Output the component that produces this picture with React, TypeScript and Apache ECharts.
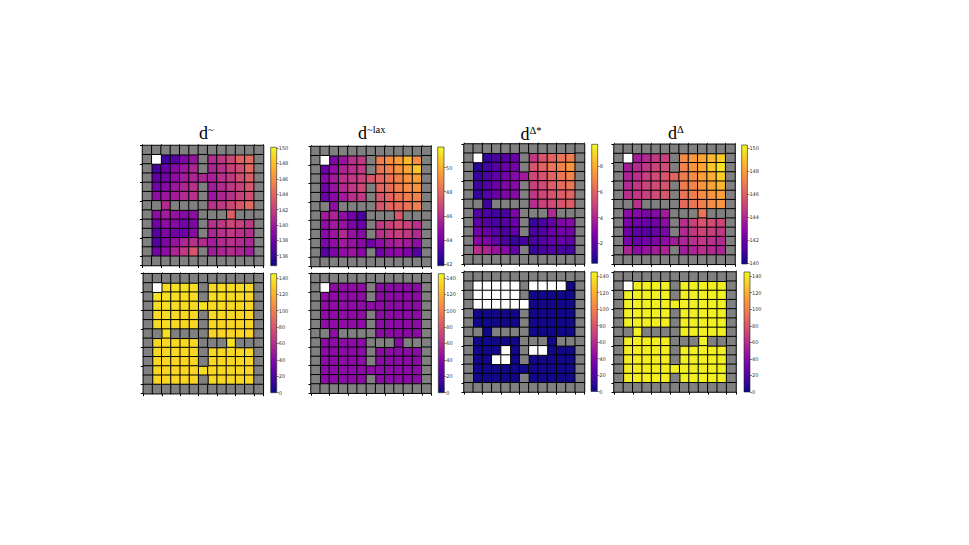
import React, { useEffect, useRef } from "react";
import * as echarts from "echarts";

// Four-rooms gridworld layout: '#' = wall
const LAYOUT = [
  "#############",
  "#.....#.....#",
  "#.....#.....#",
  "#...........#",
  "#.....#.....#",
  "#.....#.....#",
  "##.####.....#",
  "#.....###.###",
  "#.....#.....#",
  "#.....#.....#",
  "#...........#",
  "#.....#.....#",
  "#############",
];

const CATS = ["0", "1", "2", "3", "4", "5", "6", "7", "8", "9", "10", "11", "12"];

const PLASMA = ["#0d0887", "#41049d", "#6a00a8", "#8f0da4", "#b12a90", "#cc4778", "#e16462", "#f2844b", "#fca636", "#fcce25", "#f0f921"];

// interior 11x11 values (rows 1..11, cols 1..11); null = wall, NaN = blank (white)
const N = NaN;
const D_TILDE = [
  [N, 136.2, 137.0, 138.6, 139.6, null, 140.9, 141.6, 142.4, 143.9, 144.2],
  [136.5, 137.8, 139.0, 139.8, 140.6, null, 140.6, 141.2, 142.1, 142.7, 144.2],
  [137.5, 138.1, 139.3, 140.1, 140.6, 140.6, 140.4, 141.2, 141.6, 142.7, 143.6],
  [138.1, 139.0, 139.8, 140.6, 141.2, null, 140.1, 140.9, 141.6, 142.1, 143.2],
  [139.3, 139.8, 140.1, 140.9, 141.2, null, 139.8, 140.6, 141.2, 142.1, 142.7],
  [null, 140.9, null, null, null, null, 141.2, 141.6, 142.4, 143.2, 144.2],
  [139.3, 140.1, 139.6, 139.0, 139.3, null, null, null, 143.6, null, null],
  [138.1, 139.3, 139.0, 138.1, 138.6, null, 141.2, 141.6, 142.4, 142.1, 141.6],
  [137.0, 138.6, 138.1, 137.8, 139.0, null, 140.6, 141.2, 141.6, 141.2, 140.9],
  [137.0, 138.6, 139.6, 140.6, 141.2, 140.9, 140.1, 140.9, 141.2, 140.9, 140.6],
  [138.1, 139.3, 140.6, 141.6, 143.2, null, 140.1, 140.6, 140.9, 140.6, 140.1],
];
const D_TILDE_LAX = [
  [N, 44.3, 45.0, 46.0, 46.3, null, 48.6, 49.0, 49.5, 50.2, 49.0],
  [43.8, 44.8, 45.6, 46.0, 46.3, null, 48.3, 48.7, 49.2, 49.7, 50.5],
  [44.6, 45.3, 46.0, 46.3, 46.6, 47.3, 47.8, 48.3, 48.7, 49.2, 49.5],
  [44.0, 45.0, 45.8, 46.3, 46.8, null, 47.8, 48.1, 48.6, 49.0, 49.2],
  [43.8, 44.6, 45.3, 46.0, 46.3, null, 47.3, 47.8, 48.3, 48.6, 48.7],
  [null, 44.8, null, null, null, null, 47.3, 47.8, 48.0, 48.3, 48.6],
  [45.3, 45.6, 44.8, 44.0, 43.0, null, null, null, 47.3, null, null],
  [44.8, 45.3, 45.0, 44.3, 43.8, null, 46.3, 46.6, 47.0, 46.6, 46.0],
  [44.6, 45.1, 45.8, 45.0, 44.6, null, 46.0, 46.3, 46.6, 46.3, 45.8],
  [44.3, 44.8, 45.3, 45.0, 44.6, 44.0, 44.8, 45.3, 45.6, 45.3, 44.8],
  [43.3, 44.3, 44.8, 45.1, 44.6, null, 44.0, 44.6, 44.8, 44.3, 43.3],
];
const D_DELTA_STAR = [
  [N, 1.2, 1.6, 1.8, 2.3, null, 4.6, 5.5, 6.0, 6.5, 6.7],
  [0.9, 1.4, 1.8, 2.3, 2.5, null, 5.5, 6.0, 6.5, 6.9, 7.4],
  [1.2, 1.6, 2.1, 2.5, 3.0, 3.7, 5.1, 5.5, 6.0, 6.5, 6.9],
  [1.4, 1.8, 2.3, 2.8, 3.0, null, 4.9, 5.2, 5.8, 6.2, 6.5],
  [1.2, 1.8, 2.3, 2.8, 3.0, null, 4.6, 5.1, 5.5, 5.8, 6.0],
  [null, 1.4, null, null, null, null, 4.3, 4.9, 5.2, 5.5, 5.8],
  [1.8, 1.6, 1.4, 1.6, 2.8, null, null, null, 4.1, null, null],
  [2.1, 1.8, 1.6, 1.8, 2.3, null, 1.2, 1.6, 2.1, 2.8, 3.0],
  [2.5, 2.3, 1.8, 1.6, 2.1, null, 1.6, 1.8, 2.3, 2.5, 2.5],
  [3.0, 2.8, 2.1, 1.6, 1.2, 1.4, 1.6, 1.8, 2.1, 2.3, 2.1],
  [4.3, 4.0, 3.4, 3.0, 2.1, null, 1.2, 1.6, 1.8, 1.6, 1.4],
];
const D_DELTA = [
  [N, 143.6, 144.1, 144.6, 144.9, null, 147.4, 147.8, 148.2, 148.7, 149.3],
  [143.6, 144.1, 144.6, 145.1, 145.3, null, 147.2, 147.7, 148.2, 149.1, 149.8],
  [143.9, 144.3, 144.9, 145.3, 145.6, 146.2, 147.0, 147.4, 148.0, 148.4, 149.3],
  [144.1, 144.6, 145.1, 145.3, 145.6, null, 147.0, 147.2, 147.7, 148.2, 148.7],
  [144.3, 144.6, 144.9, 145.3, 145.6, null, 146.7, 147.0, 147.4, 147.7, 148.0],
  [null, 144.3, null, null, null, null, 146.4, 146.7, 147.0, 147.4, 147.7],
  [143.0, 142.8, 142.5, 142.8, 143.6, null, null, null, 146.7, null, null],
  [142.5, 142.2, 142.0, 142.2, 143.0, null, 144.3, 144.9, 145.6, 145.3, 145.1],
  [142.2, 141.8, 141.5, 142.0, 142.5, null, 144.1, 144.6, 145.1, 144.9, 144.6],
  [142.5, 142.0, 142.2, 142.5, 143.0, 143.6, 143.9, 144.3, 144.6, 144.3, 144.1],
  [143.9, 143.0, 143.3, 143.6, 143.9, null, 143.6, 143.9, 144.3, 144.1, 143.9],
];
const B_TILDE = [
  [N, 136, 137, 137, 136, null, 135, 136, 136, 135, 135],
  [137, 137, 136, 136, 135, null, 136, 136, 135, 135, 134],
  [136, 136, 135, 135, 134, 137, 135, 135, 134, 134, 134],
  [135, 135, 135, 134, 134, null, 134, 134, 134, 133, 133],
  [135, 135, 134, 134, 133, null, 134, 133, 133, 133, 133],
  [null, 137, null, null, null, null, 133, 133, 133, 133, 132],
  [134, 134, 134, 134, 134, null, null, null, 137, null, null],
  [134, 134, 134, 134, 133, null, 134, 134, 134, 134, 134],
  [134, 133, 133, 133, 133, null, 134, 134, 134, 134, 134],
  [133, 133, 133, 133, 133, 136, 134, 134, 134, 134, 134],
  [133, 133, 133, 133, 133, null, 134, 134, 134, 134, 134],
];
const B_TILDE_LAX = [
  [N, 43, 43, 43, 43, null, 42, 42, 42, 42, 42],
  [43, 43, 43, 43, 43, null, 42, 42, 42, 42, 42],
  [43, 43, 43, 43, 43, 43, 42, 42, 42, 42, 42],
  [43, 43, 43, 43, 43, null, 42, 42, 42, 42, 42],
  [43, 43, 43, 43, 43, null, 42, 42, 42, 42, 42],
  [null, 43, null, null, null, null, 42, 42, 42, 42, 42],
  [42, 42, 42, 42, 42, null, null, null, 42, null, null],
  [42, 42, 42, 42, 42, null, 42, 42, 42, 42, 42],
  [42, 42, 42, 42, 42, null, 42, 42, 42, 42, 42],
  [42, 42, 42, 42, 42, 43, 42, 42, 42, 42, 42],
  [42, 42, 42, 42, 42, null, 42, 42, 42, 42, 42],
];
const B_DELTA_STAR = [
  [N, N, N, N, N, null, N, N, N, N, 1],
  [N, N, N, N, N, null, 1, 1, 1, 1, 1],
  [N, N, N, N, N, N, 1, 1, 1, 1, 1],
  [1, 1, 1, 1, 1, null, 1, 1, 1, 1, 1],
  [1, 1, 1, 1, 1, null, 1, 1, 1, 1, 1],
  [null, 1, null, null, null, null, 1, 1, 1, 1, 1],
  [1, 1, 1, 1, 1, null, null, null, 1, null, null],
  [1, 1, 1, N, 1, null, N, N, 1, 1, 1],
  [1, 1, N, N, 1, null, 1, 1, 1, 1, 1],
  [1, 1, 1, 1, 1, 1, 1, 1, 1, 1, 1],
  [1, 1, 1, 1, 1, null, 1, 1, 1, 1, 1],
];
const B_DELTA = [
  [N, 142, 142, 142, 142, null, 142, 142, 142, 142, 142],
  [142, 142, 142, 142, 142, null, 142, 142, 142, 142, 142],
  [142, 142, 142, 142, 142, 142, 142, 142, 142, 142, 142],
  [142, 142, 142, 142, 142, null, 142, 142, 142, 142, 142],
  [142, 142, 142, 142, 142, null, 142, 142, 142, 142, 142],
  [null, 142, null, null, null, null, 142, 142, 142, 142, 142],
  [141, 141, 141, 141, 141, null, null, null, 142, null, null],
  [141, 141, 141, 141, 141, null, 142, 142, 142, 142, 142],
  [141, 141, 141, 141, 141, null, 142, 142, 142, 142, 142],
  [141, 141, 141, 141, 141, 142, 142, 142, 142, 142, 142],
  [141, 141, 141, 141, 141, null, 142, 142, 142, 142, 142],
];

const RANGES = [
  [134.7, 150.1],
  [41.86, 51.7],
  [0.45, 9.68],
  [139.94, 150.3],
  [0, 145],
  [0, 145],
  [0, 145],
  [0, 145],
];
const TICKS_TOP_1 = [136, 138, 140, 142, 144, 146, 148, 150];
const TICKS_TOP_2 = [42, 44, 46, 48, 50];
const TICKS_TOP_3 = [2, 4, 6, 8];
const TICKS_TOP_4 = [140, 142, 144, 146, 148, 150];
const TICKS_BOTTOM = [0, 20, 40, 60, 80, 100, 120, 140];

const TITLE_SUPS = ["~", "~lax", "Δ*", "Δ"];

const VALUES = [D_TILDE, D_TILDE_LAX, D_DELTA_STAR, D_DELTA, B_TILDE, B_TILDE_LAX, B_DELTA_STAR, B_DELTA];
const TICKS = [TICKS_TOP_1, TICKS_TOP_2, TICKS_TOP_3, TICKS_TOP_4, TICKS_BOTTOM, TICKS_BOTTOM, TICKS_BOTTOM, TICKS_BOTTOM];

// layout boxes (left, top, width, height)
const CELL_BOXES = [
  [142.5, 145.5, 121, 120],
  [311, 146.5, 120, 120],
  [464, 144, 120.5, 120],
  [614, 144.3, 121, 120],
  [143.3, 273.7, 120, 120],
  [311, 273.7, 120, 119.5],
  [464, 272, 120.5, 120],
  [614, 272, 122, 120],
];
const BAR_BOXES = [
  [270.7, 147.3, 6, 118.4],
  [437.7, 147, 6.3, 118.7],
  [591.7, 144.3, 6, 119],
  [741.7, 145, 5.7, 119],
  [270.7, 273.7, 6, 119],
  [438.3, 273.7, 6, 119],
  [591, 272, 6.3, 119.5],
  [744, 272, 6, 120],
];
const TITLE_POS = [
  [199, 142],
  [358, 142],
  [520.5, 143],
  [668, 142],
];

function splitCells(vals: (number | null)[][]) {
  const v: number[][] = [];
  const w: number[][] = [];
  const n: number[][] = [];
  for (let r = 0; r < 13; r++) {
    for (let c = 0; c < 13; c++) {
      if (LAYOUT[r][c] === "#") {
        w.push([c, r, 0]);
      } else {
        const x = vals[r - 1][c - 1] as number;
        if (Number.isNaN(x)) n.push([c, r, 0]);
        else v.push([c, r, x]);
      }
    }
  }
  return { v, w, n };
}

function buildOption() {
  const option: any = {
    animation: false,
    backgroundColor: "#ffffff",
    grid: [],
    xAxis: [],
    yAxis: [],
    series: [],
    visualMap: [],
    graphic: [],
  };
  const stops = PLASMA.map((c, i) => ({ offset: i / (PLASMA.length - 1), color: c }));
  VALUES.forEach((vals, i) => {
    const [l, t, w, h] = CELL_BOXES[i];
    const gi = option.grid.length;
    option.grid.push({ left: l, top: t, width: w, height: h });
    const tick = { show: true, length: 2.5, lineStyle: { color: "#000", width: 1 } };
    const xi = option.xAxis.length;
    option.xAxis.push({
      type: "category", gridIndex: gi, data: CATS, position: "bottom",
      axisLabel: { show: false }, axisLine: { show: false }, axisTick: tick, splitLine: { show: false },
    });
    option.xAxis.push({
      type: "category", gridIndex: gi, data: CATS, position: "top",
      axisLabel: { show: false }, axisLine: { show: false },
      axisTick: { show: true, length: 1.5, lineStyle: { color: "#333", width: 0.8 } }, splitLine: { show: false },
    });
    const yi = option.yAxis.length;
    option.yAxis.push({
      type: "category", gridIndex: gi, data: CATS, inverse: true, position: "left",
      axisLabel: { show: false }, axisLine: { show: false }, axisTick: tick, splitLine: { show: false },
    });
    const cells = splitCells(vals);
    const base = option.series.length;
    const common = { type: "heatmap", xAxisIndex: xi, yAxisIndex: yi, progressive: 0, emphasis: { disabled: true } };
    option.series.push({ ...common, data: cells.v, itemStyle: { borderColor: "#000", borderWidth: 1 } });
    option.series.push({ ...common, data: cells.w, itemStyle: { borderColor: "#000", borderWidth: 1 } });
    option.series.push({ ...common, data: cells.n, itemStyle: { borderColor: "#000", borderWidth: 1 } });
    option.visualMap.push({
      type: "continuous", show: false, seriesIndex: base, dimension: 2,
      min: RANGES[i][0], max: RANGES[i][1], inRange: { color: PLASMA },
    });
    option.visualMap.push({
      type: "continuous", show: false, seriesIndex: base + 1, dimension: 2,
      min: 0, max: 1, inRange: { color: ["#808080", "#808080"] }, outOfRange: { color: ["#808080"] },
    });
    option.visualMap.push({
      type: "continuous", show: false, seriesIndex: base + 2, dimension: 2,
      min: 0, max: 1, inRange: { color: ["#ffffff", "#ffffff"] }, outOfRange: { color: ["#ffffff"] },
    });

    // colorbar
    const [bl, bt, bw, bh] = BAR_BOXES[i];
    const gj = option.grid.length;
    option.grid.push({
      left: bl, top: bt, width: bw, height: bh, show: true,
      backgroundColor: new echarts.graphic.LinearGradient(0, 1, 0, 0, stops),
      borderColor: "#222", borderWidth: 0.6,
    });
    option.xAxis.push({ type: "category", gridIndex: gj, data: [""], show: false });
    option.yAxis.push({
      type: "value", gridIndex: gj, position: "right", min: RANGES[i][0], max: RANGES[i][1],
      axisLine: { show: false },
      axisTick: { show: true, length: 2, customValues: TICKS[i], lineStyle: { color: "#333", width: 0.6 } },
      axisLabel: { show: true, customValues: TICKS[i], fontSize: 5, margin: 2, color: "#333", fontFamily: "DejaVu Sans" },
      splitLine: { show: false },
    });
  });

  TITLE_SUPS.forEach((sup, i) => {
    option.graphic.push({
      type: "text",
      x: TITLE_POS[i][0],
      y: TITLE_POS[i][1],
      style: {
        text: "{a|d}{b|" + sup + "}",
        align: "left",
        verticalAlign: "bottom",
        rich: {
          a: { fontSize: 18, fontFamily: "Liberation Serif", fill: "#000", color: "#000" },
          b: { fontSize: 10.5, fontFamily: "Liberation Serif", fill: "#000", color: "#000", verticalAlign: "top" },
        },
      },
    });
  });
  return option;
}

export default function App() {
  const ref = useRef<HTMLDivElement>(null);
  useEffect(() => {
    if (!ref.current) return;
    const chart = echarts.init(ref.current, null, { renderer: "svg" });
    chart.setOption(buildOption());
    return () => chart.dispose();
  }, []);
  return (
    <div
      ref={ref}
      style={{ position: "fixed", left: 0, top: 0, width: 969, height: 545, background: "#fff" }}
    />
  );
}
